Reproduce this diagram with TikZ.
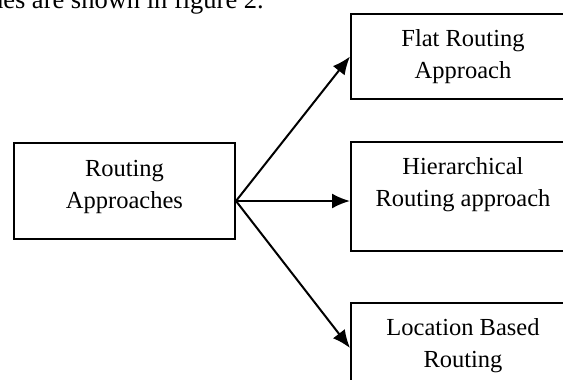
\documentclass[tikz,border=0pt]{standalone}
\usepackage{fontspec}
\setmainfont{Liberation Serif}
\usetikzlibrary{arrows.meta}
\tikzset{
	rbox/.style={draw, line width=2pt, inner sep=0pt, anchor=north west, minimum width=224pt},
	rtext/.style={anchor=north, yshift=-16pt, align=center, inner sep=0pt, font=\fontsize{24.5}{32}\selectfont},
	link/.style={line width=2pt, -{Latex[length=18pt,width=15pt]}}
}
\begin{document}
\begin{tikzpicture}[x=1pt,y=-1pt]
	\useasboundingbox (0,0) rectangle (563,380);
	\fill[white] (0,0) rectangle (563,380);
	\clip (0,0) rectangle (563,380);

	\node[anchor=base east, inner sep=0pt, font=\fontsize{26.5}{32}\selectfont] (caption) at (264,8.5) {hes are shown in figure 2.};

	\node[rbox, minimum width=221pt, minimum height=96pt, label={[rtext,yshift=-2pt]north:{Routing\\Approaches}}] (src) at (13,142) {};
	\node[rbox, minimum height=85pt, label={[rtext]north:{Flat Routing\\Approach}}] (flat) at (350,13) {};
	\node[rbox, minimum height=109pt, label={[rtext]north:{Hierarchical\\Routing approach}}] (hier) at (350,141) {};
	\node[rbox, minimum height=90pt, label={[rtext]north:{Location Based\\Routing}}] (loc) at (350,302) {};

	\coordinate (fork) at ([yshift=-10pt]src.east);
	\draw[link] (fork) -- (flat.west);
	\draw[link] (fork) -- (hier.west |- fork);
	\draw[link] (fork) -- (loc.west);
\end{tikzpicture}
\end{document}
